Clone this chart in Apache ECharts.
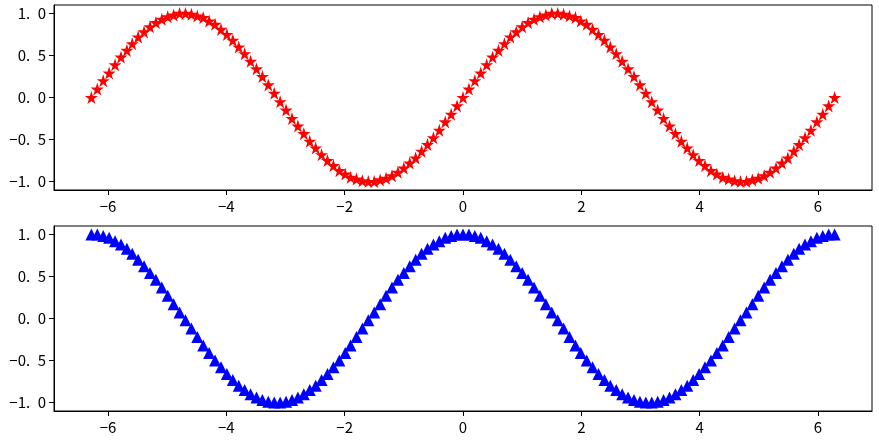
<!DOCTYPE html>
<html>
<head>
<meta charset="utf-8">
<script src="https://cdn.jsdelivr.net/npm/echarts@6/dist/echarts.min.js"></script>
<style>
  html, body { margin: 0; padding: 0; background: #fff; }
  #chart { width: 879px; height: 443px; }
</style>
</head>
<body>
<div id="chart"></div>
<script>
// x samples, -2pi .. 2pi (127 points)
var xValues = [-6.28,-6.18,-6.08,-5.98,-5.88,-5.78,-5.68,-5.59,-5.49,-5.39,
  -5.29,-5.19,-5.09,-4.99,-4.89,-4.79,-4.69,-4.59,-4.49,-4.39,
  -4.29,-4.19,-4.09,-3.99,-3.89,-3.79,-3.69,-3.59,-3.49,-3.39,
  -3.29,-3.19,-3.09,-2.99,-2.89,-2.79,-2.69,-2.59,-2.49,-2.39,
  -2.29,-2.19,-2.09,-1.99,-1.90,-1.80,-1.70,-1.60,-1.50,-1.40,
  -1.30,-1.20,-1.10,-1.00,-0.90,-0.80,-0.70,-0.60,-0.50,-0.40,
  -0.30,-0.20,-0.10,0,
  0.10,0.20,0.30,0.40,0.50,0.60,0.70,0.80,0.90,1.00,
  1.10,1.20,1.30,1.40,1.50,1.60,1.70,1.80,1.90,1.99,
  2.09,2.19,2.29,2.39,2.49,2.59,2.69,2.79,2.89,2.99,
  3.09,3.19,3.29,3.39,3.49,3.59,3.69,3.79,3.89,3.99,
  4.09,4.19,4.29,4.39,4.49,4.59,4.69,4.79,4.89,4.99,
  5.09,5.19,5.29,5.39,5.49,5.59,5.68,5.78,5.88,5.98,
  6.08,6.18,6.28];

// red stars (top panel)
var sinValues = [0,0.10,0.20,0.29,0.39,0.48,0.56,0.64,0.72,0.78,0.84,0.89,0.93,0.96,0.98,1.00,
  1.00,0.99,0.97,0.95,0.91,0.87,0.81,0.75,0.68,0.60,0.52,0.43,0.34,0.25,0.15,0.05,
  -0.05,-0.15,-0.25,-0.34,-0.43,-0.52,-0.60,-0.68,-0.75,-0.81,-0.87,-0.91,-0.95,-0.97,-0.99,-1.00,
  -1.00,-0.98,-0.96,-0.93,-0.89,-0.84,-0.78,-0.72,-0.64,-0.56,-0.48,-0.39,-0.29,-0.20,-0.10,
  0,0.10,0.20,0.29,0.39,0.48,0.56,0.64,0.72,0.78,0.84,0.89,0.93,0.96,0.98,1.00,
  1.00,0.99,0.97,0.95,0.91,0.87,0.81,0.75,0.68,0.60,0.52,0.43,0.34,0.25,0.15,0.05,
  -0.05,-0.15,-0.25,-0.34,-0.43,-0.52,-0.60,-0.68,-0.75,-0.81,-0.87,-0.91,-0.95,-0.97,-0.99,-1.00,
  -1.00,-0.98,-0.96,-0.93,-0.89,-0.84,-0.78,-0.72,-0.64,-0.56,-0.48,-0.39,-0.29,-0.20,-0.10,
  0];

// blue triangles (bottom panel)
var cosValues = [1.00,1.00,0.98,0.96,0.92,0.88,0.83,0.77,0.70,0.62,0.54,0.46,0.37,0.27,0.17,0.07,
  -0.02,-0.12,-0.22,-0.32,-0.41,-0.50,-0.58,-0.66,-0.73,-0.80,-0.85,-0.90,-0.94,-0.97,-0.99,-1.00,
  -1.00,-0.99,-0.97,-0.94,-0.90,-0.85,-0.80,-0.73,-0.66,-0.58,-0.50,-0.41,-0.32,-0.22,-0.12,-0.02,
  0.07,0.17,0.27,0.37,0.46,0.54,0.62,0.70,0.77,0.83,0.88,0.92,0.96,0.98,1.00,
  1.00,1.00,0.98,0.96,0.92,0.88,0.83,0.77,0.70,0.62,0.54,0.46,0.37,0.27,0.17,0.07,
  -0.02,-0.12,-0.22,-0.32,-0.41,-0.50,-0.58,-0.66,-0.73,-0.80,-0.85,-0.90,-0.94,-0.97,-0.99,-1.00,
  -1.00,-0.99,-0.97,-0.94,-0.90,-0.85,-0.80,-0.73,-0.66,-0.58,-0.50,-0.41,-0.32,-0.22,-0.12,-0.02,
  0.07,0.17,0.27,0.37,0.46,0.54,0.62,0.70,0.77,0.83,0.88,0.92,0.96,0.98,1.00,
  1.00];

var xTicks = [-6, -4, -2, 0, 2, 4, 6];
var yTicks = [-1.0, -0.5, 0.0, 0.5, 1.0];

var starPath = 'path://M0,-10 L2.245,-3.09 L9.51,-3.09 L3.633,1.18 L5.878,8.09 L0,3.82 L-5.878,8.09 L-3.633,1.18 L-9.51,-3.09 L-2.245,-3.09 Z';

function pairs(xs, ys) {
  var out = [];
  for (var i = 0; i < xs.length; i++) out.push([xs[i], ys[i]]);
  return out;
}

var labelFont = { color: '#000', fontSize: 15, fontFamily: '"Noto Sans CJK SC", sans-serif' };

function xAxisCfg(idx) {
  return {
    type: 'value', gridIndex: idx, min: -6.912, max: 6.912,
    splitLine: { show: false },
    axisLine: { show: true, onZero: false, lineStyle: { color: '#000', width: 1 } },
    axisTick: { show: true, inside: false, length: 5, customValues: xTicks, lineStyle: { color: '#000' } },
    axisLabel: Object.assign({ margin: 9, customValues: xTicks,
      formatter: function (v) { return String(v).replace('-', '\u2212'); } }, labelFont)
  };
}
function yAxisCfg(idx) {
  return {
    type: 'value', gridIndex: idx, min: -1.1, max: 1.1,
    splitLine: { show: false },
    axisLine: { show: true, onZero: false, lineStyle: { color: '#000', width: 1 } },
    axisTick: { show: true, inside: false, length: 5, customValues: yTicks, lineStyle: { color: '#000' } },
    axisLabel: Object.assign({ margin: 8, customValues: yTicks,
      formatter: function (v) { return v.toFixed(1).replace('-', '\u2212').replace('.', '.\u2002'); } }, labelFont)
  };
}

var myChart = echarts.init(document.getElementById('chart'));
var option = {
  backgroundColor: '#fff',
  animation: false,
  grid: [
    { left: 54, right: 7, top: 5, height: 185, show: true, borderColor: '#000', borderWidth: 1, backgroundColor: 'transparent' },
    { left: 54, right: 7, top: 226, height: 185, show: true, borderColor: '#000', borderWidth: 1, backgroundColor: 'transparent' }
  ],
  xAxis: [xAxisCfg(0), xAxisCfg(1)],
  yAxis: [yAxisCfg(0), yAxisCfg(1)],
  series: [
    {
      type: 'scatter', xAxisIndex: 0, yAxisIndex: 0,
      symbol: starPath, symbolSize: 13,
      itemStyle: { color: '#ff0000', opacity: 1 },
      data: pairs(xValues, sinValues)
    },
    {
      type: 'scatter', xAxisIndex: 1, yAxisIndex: 1,
      symbol: 'triangle', symbolSize: 12,
      itemStyle: { color: '#0000ff', opacity: 1 },
      data: pairs(xValues, cosValues)
    }
  ]
};
myChart.setOption(option, true);
</script>
</body>
</html>
